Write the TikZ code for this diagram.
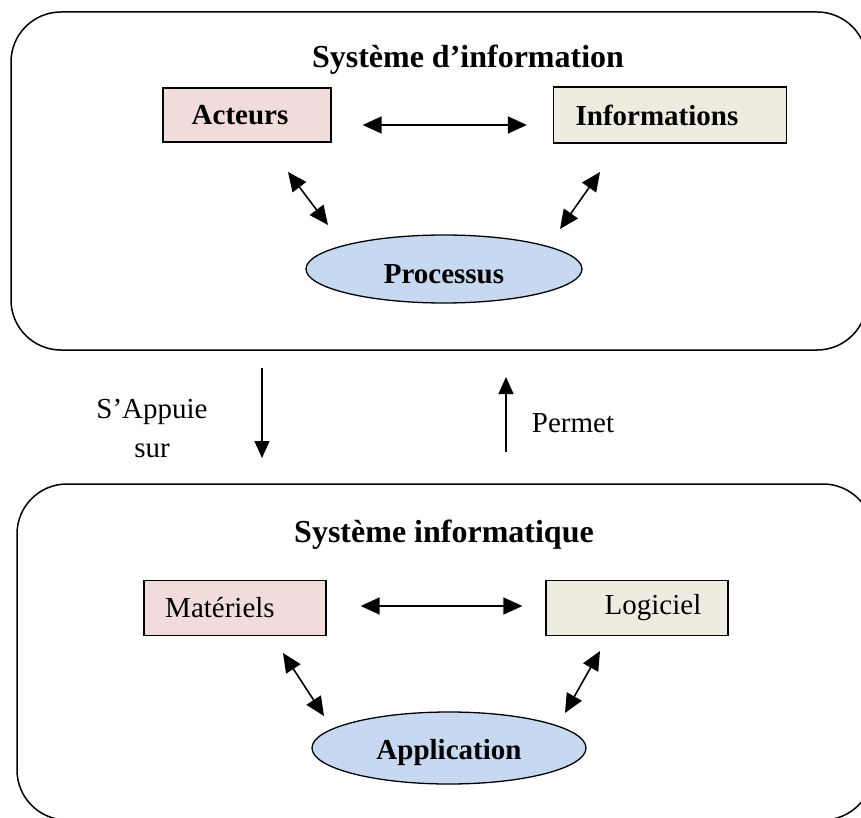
\documentclass[tikz,border=0pt]{standalone}
\usepackage{fontspec}
\setmainfont{Liberation Serif}
\usetikzlibrary{arrows.meta, shapes.geometric}

\definecolor{rose}{HTML}{F2DCDB}
\definecolor{beige}{HTML}{EEECE1}
\definecolor{bleu}{HTML}{C6D9F1}

\begin{document}
\begin{tikzpicture}[x=1pt, y=-1pt,
		cadre/.style={draw, line width=1.5pt, rounded corners=50pt},
		titre/.style={font=\fontsize{32}{38}\selectfont\bfseries, anchor=base},
		boite/.style={draw, line width=1.3pt, font=\fontsize{29}{35}\selectfont},
		bulle/.style={draw, ellipse, line width=1.3pt, fill=bleu, text height=29pt, font=\fontsize{29}{35}\selectfont\bfseries},
		texte/.style={font=\fontsize{29}{39}\selectfont, align=center},
		fleche/.style={{Triangle[length=19pt,width=17pt]}-{Triangle[length=19pt,width=17pt]}, line width=1.6pt},
		lien/.style={-{Triangle[length=17pt,width=15pt]}, line width=1.2pt}]
			\useasboundingbox (0,0) rectangle (861,818);
			\clip (0,0) rectangle (861,818);

			\draw[cadre] (11,12) rectangle (867,350);
			\draw[cadre] (17,484) rectangle (873,820);

			\node[titre] (titre1) at (468,68) {Système d’information};
			\node[boite] (acteurs) at (247,115) [fill=rose, minimum width=168pt, minimum height=54pt] {\hspace*{-14pt}\textbf{Acteurs}};
			\node[boite] (infos) [right of=acteurs, node distance=423pt, fill=beige, minimum width=233pt, minimum height=56pt] {\hspace*{-26pt}\textbf{Informations}};
			\node[bulle] (processus) [below of=acteurs, node distance=154pt, xshift=197pt, minimum width=276pt, minimum height=68pt] {Processus};

			\node[titre] (titre2) at (444,542) {Système informatique};
			\node[boite] (materiels) at (235,608) [fill=rose, minimum width=182pt, minimum height=55pt] {\hspace*{-30pt}Matériels};
			\node[boite] (logiciel) [right of=materiels, node distance=402pt, fill=beige, minimum width=182pt, minimum height=55pt] {\hspace*{32pt}Logiciel};
			\node[bulle] (application) [below of=materiels, node distance=140pt, xshift=214pt, minimum width=274pt, minimum height=72pt] {Application};

			\node[texte] (appuie) at (152,428) {S’Appuie\\sur};
			\node[texte] (permet) at (573,423) {Permet};

			\coordinate (ap1) at (288,172);
			\coordinate (ap2) at (328,225);
			\coordinate (ip1) at (600,172);
			\coordinate (ip2) at (560,229);
			\coordinate (ma1) at (283,653);
			\coordinate (ma2) at (324,716);
			\coordinate (la1) at (600,651);
			\coordinate (la2) at (565,713);
			\coordinate (haut1) at (262,368);
			\coordinate (bas1) at (262,458);
			\coordinate (bas2) at (506,452);
			\coordinate (haut2) at (506,377);

			\draw[fleche, shorten <=31pt, shorten >=26pt] ([yshift=-10pt]acteurs.east) -- ([yshift=-10pt]infos.west);
			\draw[fleche, shorten <=34pt, shorten >=23pt] ([yshift=2pt]materiels.east) -- ([yshift=2pt]logiciel.west);
			\draw[fleche] (ap1) -- (ap2);
			\draw[fleche] (ip1) -- (ip2);
			\draw[fleche] (ma1) -- (ma2);
			\draw[fleche] (la1) -- (la2);

			\draw[lien] (haut1) -- (bas1);
			\draw[lien] (bas2) -- (haut2);
		\end{tikzpicture}
\end{document}
